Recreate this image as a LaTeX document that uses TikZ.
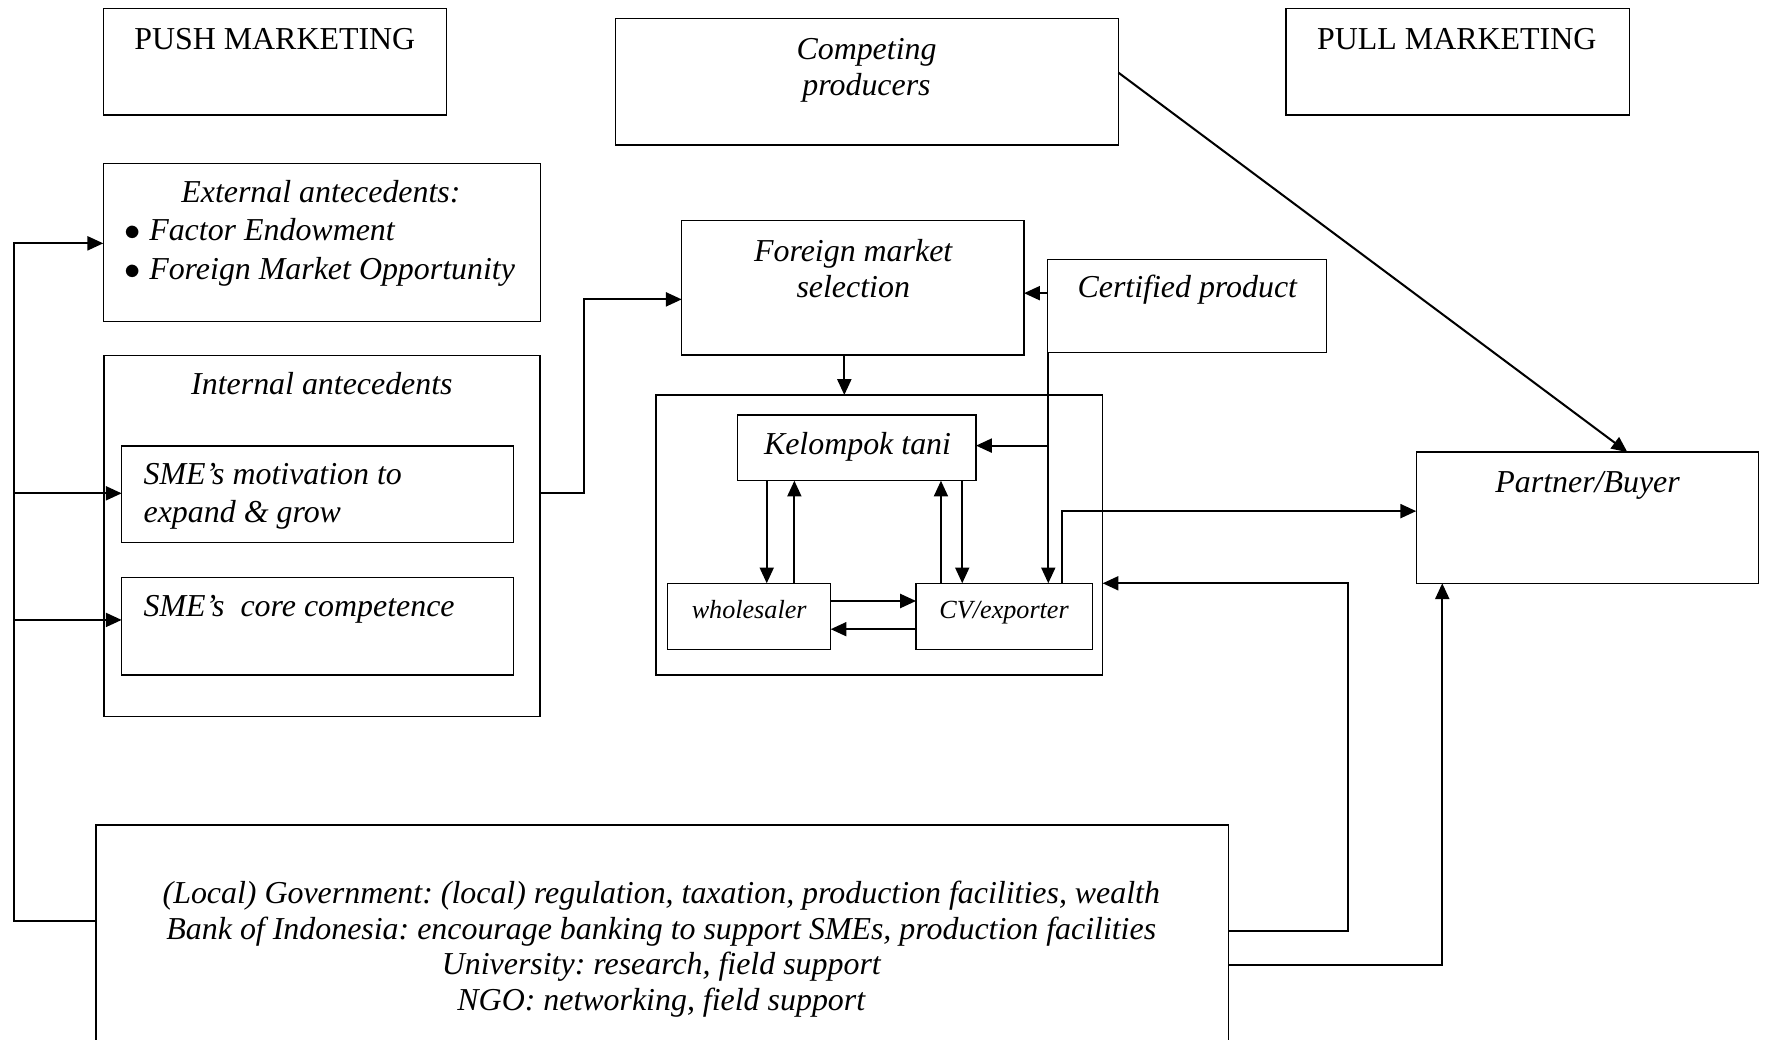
\documentclass[tikz,border=0pt]{standalone}
\usepackage{fontspec}
\setmainfont{Liberation Serif}
\usetikzlibrary{arrows.meta}
\frenchspacing
\begin{document}
\begin{tikzpicture}[x=0.5pt,y=-0.5pt,
  box/.style={draw, line width=0.6pt, inner sep=0pt, outer sep=0pt, anchor=north west},
  conn/.style={line width=0.9pt},
  arr/.style={conn, -{Triangle[length=7pt,width=6.2pt]}},
  txt/.style={inner sep=0pt, anchor=base, font=\fontsize{14.15pt}{17pt}\selectfont\itshape},
  txtl/.style={txt, anchor=base west},
  txtup/.style={inner sep=0pt, anchor=base, font=\fontsize{14.15pt}{17pt}\selectfont},
  small/.style={inner sep=0pt, anchor=base, font=\fontsize{11.6pt}{14pt}\selectfont\itshape}
]
\useasboundingbox (0,0) rectangle (1568,922);

% ---- boxes ----
\node[box, minimum width=152pt,    minimum height=47.25pt] (push)      at (92,7.5) {};
\node[box, minimum width=223pt,    minimum height=56.15pt] (competing) at (546,16.3) {};
\node[box, minimum width=152.3pt,  minimum height=47.25pt] (pull)      at (1140.4,7.5) {};
\node[box, minimum width=193.9pt,  minimum height=70.25pt] (ext)       at (91.6,144.8) {};
\node[box, minimum width=193.35pt, minimum height=160.3pt] (internal)  at (92.3,315) {};
\node[box, minimum width=173.85pt, minimum height=42.9pt]  (smemot)    at (107.9,395.5) {};
\node[box, minimum width=173.85pt, minimum height=43.3pt]  (smecore)   at (107.9,512) {};
\node[box, minimum width=151.8pt,  minimum height=59.55pt] (fms)       at (604.6,195.7) {};
\node[box, minimum width=123.75pt, minimum height=41.4pt]  (cert)      at (929.2,230) {};
\node[box, minimum width=198.05pt, minimum height=124.15pt] (container) at (581.8,350.3) {};
\node[box, minimum width=105.7pt,  minimum height=29.15pt] (kel)       at (654.2,368) {};
\node[box, minimum width=72.35pt,  minimum height=29.25pt] (whole)     at (592,517.3) {};
\node[box, minimum width=78.3pt,   minimum height=29.25pt] (cv)        at (812.4,517.3) {};
\node[box, minimum width=151.65pt, minimum height=58.15pt] (partner)   at (1256,401) {};
\node[box, minimum width=502.15pt, minimum height=99.2pt]  (gov)       at (85,731.6) {};

% ---- texts ----
\node[txtup] (pusht) at (243.7,44.3) {PUSH MARKETING};
\node[txt] (cmp1) at (768.5,52.6) {Competing};
\node[txt] (cmp2) at (768.5,84.3) {producers};
\node[txtup] (pullt) at (1292,44.2) {PULL MARKETING};
\node[txt] (ext1) at (284.6,179.7) {External antecedents:};
\node[txtup, anchor=base west] (bul1) at (110,213.4) {$\bullet$};
\node[txtl] (ext2) at (132,213.4) {Factor Endowment};
\node[txtup, anchor=base west] (bul2) at (110,248.3) {$\bullet$};
\node[txtl] (ext3) at (132,248.3) {Foreign Market Opportunity};
\node[txt] (int1) at (285.5,350) {Internal antecedents};
\node[txtl] (mot1) at (127,430) {SME's motivation to};
\node[txtl] (mot2) at (127,463.5) {expand \& grow};
\node[txtl] (core1) at (127,547) {SME's\ \ core competence};
\node[txt] (fms1) at (756.7,232) {Foreign market};
\node[txt] (fms2) at (756.7,264) {selection};
\node[txt] (cert1) at (1053,264) {Certified product};
\node[txt] (kel1) at (760.5,403.5) {Kelompok tani};
\node[small] (whole1) at (664.4,548.4) {wholesaler};
\node[small] (cv1) at (890.5,548.4) {CV/exporter};
\node[txt] (pb1) at (1408,436.5) {Partner/Buyer};
\node[txt] (gov1) at (586.5,801) {(Local) Government: (local) regulation, taxation, production facilities, wealth};
\node[txt] (gov2) at (586.5,833) {Bank of Indonesia: encourage banking to support SMEs, production facilities};
\node[txt] (gov3) at (586.5,864) {University: research, field support};
\node[txt] (gov4) at (586.5,896) {NGO: networking, field support};

% ---- connector bend points ----
\coordinate (fbTop)  at (12.4,215.8);
\coordinate (fbBot)  at (12.4,817);
\coordinate (fbMot)  at (12.4,437.5);
\coordinate (fbCore) at (12.4,549.8);
\coordinate (inA) at (518.1,437.5);
\coordinate (inB) at (518.1,265.5);
\coordinate (fmsX) at (748.8,0);
\coordinate (certY) at (0,260);
\coordinate (certX) at (929.7,395.2);
\coordinate (kw1) at (680,0);
\coordinate (kw2) at (704.5,0);
\coordinate (kc1) at (834.5,0);
\coordinate (kc2) at (853.4,0);
\coordinate (wc1) at (0,533);
\coordinate (wc2) at (0,558);
\coordinate (cpA) at (942,453.3);
\coordinate (cmpY) at (0,64.5);
\coordinate (pbX) at (1443.3,0);
\coordinate (gcA) at (1195.7,825.4);
\coordinate (gcB) at (1195.7,517.3);
\coordinate (gpA) at (1279.1,855.8);

% ---- connectors ----
\draw[arr] (gov.west |- fbBot) -- (fbBot) -- (fbTop) -- (ext.west |- fbTop);
\draw[arr] (fbMot) -- (smemot.west |- fbMot);
\draw[arr] (fbCore) -- (smecore.west |- fbCore);
\draw[arr] (internal.east |- inA) -- (inA) -- (inB) -- (fms.west |- inB);
\draw[arr] (fms.south -| fmsX) -- (container.north -| fmsX);
\draw[arr] (cert.west |- certY) -- (fms.east |- certY);
\draw[arr] (cert.south -| certX) -- (cv.north -| certX);
\draw[arr] (certX) -- (kel.east |- certX);
\draw[arr] (kel.south -| kw1) -- (whole.north -| kw1);
\draw[arr] (whole.north -| kw2) -- (kel.south -| kw2);
\draw[arr] (cv.north -| kc1) -- (kel.south -| kc1);
\draw[arr] (kel.south -| kc2) -- (cv.north -| kc2);
\draw[arr] (whole.east |- wc1) -- (cv.west |- wc1);
\draw[arr] (cv.west |- wc2) -- (whole.east |- wc2);
\draw[arr] (cv.north -| cpA) -- (cpA) -- (partner.west |- cpA);
\draw[arr] (competing.east |- cmpY) -- (partner.north -| pbX);
\draw[arr] (gov.east |- gcA) -- (gcA) -- (gcB) -- (container.east |- gcB);
\draw[arr] (gov.east |- gpA) -- (gpA) -- (partner.south -| gpA);
\end{tikzpicture}
\end{document}
